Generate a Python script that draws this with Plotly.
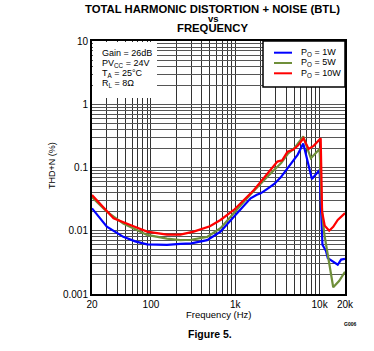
import plotly.graph_objects as go
import numpy as np

# ---- data ----
freq_1w = [20, 30, 47, 65, 90, 155, 223, 300, 464, 668, 962, 1520, 1800, 2000, 2400, 2900,
           3460, 4500, 5500, 6400, 8100, 10000, 10800, 11900, 12500, 16400, 18000, 20000]
thd_1w = [0.0226, 0.0116, 0.008, 0.0068, 0.0061, 0.0060, 0.0062, 0.0063, 0.0071, 0.0097,
          0.0167, 0.0326, 0.037, 0.039, 0.046, 0.055, 0.07, 0.11, 0.16, 0.24, 0.066, 0.091,
          0.006, 0.0048, 0.0037, 0.0029, 0.0035, 0.0036]

freq_5w = [20, 30, 47, 90, 155, 223, 300, 464, 668, 962, 1500, 2400, 2900, 3500, 4200,
           5000, 6400, 7870, 10000, 10700, 11350, 14500, 17000, 20000]
thd_5w = [0.034, 0.02, 0.013, 0.0086, 0.0075, 0.0071, 0.0072, 0.008, 0.011, 0.0193, 0.037,
          0.0716, 0.091, 0.118, 0.165, 0.2, 0.31, 0.14, 0.196, 0.02, 0.009, 0.00128, 0.0016,
          0.00225]

freq_10w = [20, 36, 60, 90, 155, 223, 321, 500, 668, 962, 1665, 2880, 3160, 3600, 4160,
            4830, 5500, 6440, 7400, 8500, 10300, 10700, 11500, 13000, 14500, 16400, 20000]
thd_10w = [0.0367, 0.0157, 0.012, 0.0097, 0.0087, 0.0087, 0.0097, 0.0118, 0.0148, 0.0213,
           0.044, 0.103, 0.124, 0.13, 0.178, 0.19, 0.22, 0.29, 0.196, 0.22, 0.29, 0.02,
           0.012, 0.01, 0.0115, 0.0148, 0.019]

series_names = ["P<sub>O</sub> = 1W", "P<sub>O</sub> = 5W", "P<sub>O</sub> = 10W"]
series_colors = ["#0000ff", "#6f8f3a", "#ff0000"]

conditions = ["Gain = 26dB", "PV<sub>CC</sub> = 24V", "T<sub>A</sub> = 25°C", "R<sub>L</sub> = 8Ω"]

x_major = [20, 100, 1000, 10000, 20000]
x_major_text = ["20", "100", "1k", "10k", "20k"]
y_major = [0.001, 0.01, 0.1, 1, 10]
y_major_text = ["0.001", "0.01", "0.1", "1", "10"]

# grid positions (1-2-...-9 per decade)
x_grid = []
for dec in [10, 100, 1000, 10000]:
    for m in range(1, 10):
        v = m * dec
        if 20 <= v <= 20000:
            x_grid.append(v)
x_grid.append(20000)
x_grid = sorted(set(x_grid))
x_text = [x_major_text[x_major.index(v)] if v in x_major else "" for v in x_grid]

y_grid = []
for dec in [0.001, 0.01, 0.1, 1]:
    for m in range(1, 10):
        y_grid.append(round(m * dec, 6))
y_grid.append(10)
y_text = [y_major_text[y_major.index(v)] if v in y_major else "" for v in y_grid]

fig = go.Figure()
for f, t, n, c in zip([freq_1w, freq_5w, freq_10w], [thd_1w, thd_5w, thd_10w],
                      series_names, series_colors):
    fig.add_trace(go.Scatter(x=f, y=t, mode="lines", name=n, showlegend=False,
                             line=dict(color=c, width=2.2)))

FONT = "Liberation Sans, Arial, sans-serif"
L, R, T, B = 92, 345, 41, 294
W, H = R - L, B - T


def px(pix):
    return (pix - L) / W


def py(pix):
    return 1 - (pix - T) / H


fig.update_layout(
    width=374, height=351,
    margin=dict(l=L, r=374 - R, t=T, b=351 - B),
    plot_bgcolor="white", paper_bgcolor="white",
    font=dict(family=FONT, size=10, color="black"),
    showlegend=False,
)

fig.update_xaxes(type="log", range=[np.log10(20), np.log10(20000)],
                 tickvals=x_grid, ticktext=x_text, ticks="",
                 showgrid=True, gridcolor="#333333", gridwidth=1,
                 showline=True, linecolor="black", linewidth=2, mirror=True,
                 zeroline=False, tickfont=dict(size=10))
fig.update_yaxes(type="log", range=[-3, 1],
                 tickvals=y_grid, ticktext=y_text, ticks="",
                 showgrid=True, gridcolor="#555555", gridwidth=1,
                 showline=True, linecolor="black", linewidth=2, mirror=True,
                 zeroline=False, tickfont=dict(size=10))

# axis titles
fig.add_annotation(text="Frequency (Hz)", x=px(218), y=py(314), xref="paper", yref="paper",
                   xanchor="center", yanchor="middle", showarrow=False,
                   font=dict(size=9.5, family=FONT, color="black"))
fig.add_annotation(text="THD+N (%)", x=px(52), y=py(166), xref="paper", yref="paper",
                   xanchor="center", yanchor="middle", showarrow=False, textangle=-90,
                   font=dict(size=9, family=FONT, color="black"))

# white box behind the test-condition text
fig.add_shape(type="rect", xref="paper", yref="paper",
              x0=px(L + 1), x1=px(157), y0=py(98), y1=py(T + 1),
              fillcolor="white", line=dict(width=0), layer="above")
for i, txt in enumerate(conditions):
    fig.add_annotation(text=txt, x=px(100), y=py(53 + 10.3 * i), xref="paper", yref="paper",
                       xanchor="left", yanchor="middle", showarrow=False,
                       font=dict(size=9, family=FONT, color="black"))

# manual legend
fig.add_shape(type="rect", xref="paper", yref="paper",
              x0=px(263), x1=px(R), y0=py(87), y1=py(T),
              fillcolor="white", line=dict(color="black", width=1.5), layer="above")
for i, (n, c) in enumerate(zip(series_names, series_colors)):
    yy = 52.7 + 10.3 * i
    fig.add_shape(type="line", xref="paper", yref="paper",
                  x0=px(274), x1=px(292), y0=py(yy), y1=py(yy),
                  line=dict(color=c, width=2), layer="above")
    fig.add_annotation(text=n, x=px(299), y=py(yy), xref="paper", yref="paper",
                       xanchor="left", yanchor="middle", showarrow=False,
                       font=dict(size=9, family=FONT, color="black"))

ann = [
    dict(text="<b>TOTAL HARMONIC DISTORTION + NOISE (BTL)</b>", x=px(212), y=py(9), size=11.3),
    dict(text="<b>vs</b>", x=px(213), y=py(18), size=9.5),
    dict(text="<b>FREQUENCY</b>", x=px(212), y=py(28), size=11.3),
    dict(text="<b>Figure 5.</b>", x=px(210), y=py(334), size=10.5),
    dict(text="<b>G006</b>", x=px(350), y=py(324), size=5),
]
for a in ann:
    fig.add_annotation(text=a["text"], x=a["x"], y=a["y"], xref="paper", yref="paper",
                       showarrow=False, xanchor="center", yanchor="middle",
                       font=dict(size=a["size"], family=FONT, color="black"))

fig.write_html("out.html")
